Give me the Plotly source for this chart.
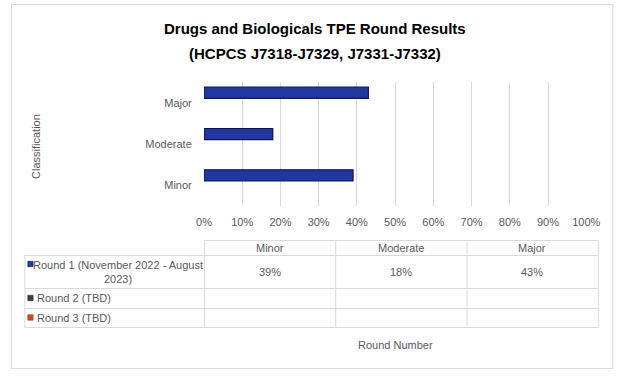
import plotly.graph_objects as go

categories = ["Minor", "Moderate", "Major"]
series_names = ["Round 1 (November 2022 - August 2023)", "Round 2 (TBD)", "Round 3 (TBD)"]
round1 = [0.39, 0.18, 0.43]
round2 = [None, None, None]
round3 = [None, None, None]
series_values = [round1, round2, round3]
series_colors = ["#22369F", "#404040", "#D24A12"]
series_lines = ["#0C1655", "#202020", "#80280A"]
x_ticks = [i / 10 for i in range(11)]
x_tick_labels = [f"{i * 10}%" for i in range(11)]
title_lines = ["Drugs and Biologicals TPE Round Results", "(HCPCS J7318-J7329, J7331-J7332)"]

W, H = 635, 376
FONT = "Liberation Sans"
GRAY = "#595959"
LINE = "#D9D9D9"


def px(x):
    return x / W


def py(y):
    return 1 - y / H


BAR_W = 0.27
BAR_OFF0 = -0.375
BAR_STEP = 0.24

fig = go.Figure()
for k, (name, vals, col, lc) in enumerate(zip(series_names, series_values, series_colors, series_lines)):
    fig.add_trace(go.Bar(
        y=categories, x=vals, name=name, orientation="h",
        width=BAR_W, offset=BAR_OFF0 + k * BAR_STEP,
        marker=dict(color=col, line=dict(color=lc, width=1.2)),
        showlegend=False,
    ))

plot_l, plot_r, plot_t, plot_b = 203, 599, 82, 206

fig.update_layout(
    width=W, height=H,
    margin=dict(l=0, r=0, t=0, b=0),
    paper_bgcolor="white", plot_bgcolor="white",
    barmode="overlay",
    font=dict(family=FONT, color=GRAY, size=11),
    xaxis=dict(
        domain=[px(plot_l), px(plot_r)], range=[0, 1],
        tickvals=x_ticks, ticktext=x_tick_labels,
        showgrid=True, gridcolor=LINE, gridwidth=1,
        zeroline=False, showline=False,
        ticks="outside", ticklen=6, tickcolor="rgba(0,0,0,0)",
        tickfont=dict(size=11, color=GRAY), fixedrange=True,
    ),
    yaxis=dict(
        domain=[py(plot_b), py(plot_t)],
        categoryorder="array", categoryarray=categories[::-1],
        autorange="reversed",
        showgrid=False, zeroline=False, showline=False,
        ticks="outside", ticklen=9, tickcolor="rgba(0,0,0,0)",
        tickfont=dict(size=11, color=GRAY), fixedrange=True,
    ),
)

shapes = []
# outer border
shapes.append(dict(type="rect", xref="paper", yref="paper",
                   x0=px(3.5), x1=px(626.5), y0=py(4.5), y1=py(368.5),
                   line=dict(color=LINE, width=1)))

# data table
col_x = [203, 339, 475, 611]
left_x = 17
head_top = 240
row_y = [255, 288, 308, 327]


def hline(x0, x1, y):
    shapes.append(dict(type="line", xref="paper", yref="paper",
                       x0=px(x0), x1=px(x1), y0=py(y + 0.5), y1=py(y + 0.5),
                       line=dict(color=LINE, width=1)))


def vline(x, y0, y1):
    shapes.append(dict(type="line", xref="paper", yref="paper",
                       x0=px(x + 0.5), x1=px(x + 0.5), y0=py(y0), y1=py(y1),
                       line=dict(color=LINE, width=1)))


hline(col_x[0], col_x[-1], head_top)
for y in row_y:
    hline(left_x, col_x[-1], y)
for x in col_x:
    vline(x, head_top, row_y[-1])
vline(left_x, row_y[0], row_y[-1])

annotations = []


def text(x, y, s, size=11, color=GRAY, xanchor="center", angle=0, family=FONT):
    annotations.append(dict(
        xref="paper", yref="paper", x=px(x), y=py(y), text=s,
        showarrow=False, xanchor=xanchor, yanchor="middle", textangle=angle,
        font=dict(size=size, color=color, family=family), align="center",
    ))


# header categories
for i, c in enumerate(categories):
    text((col_x[i] + col_x[i + 1]) / 2, 247.5, c)

# row labels + values
row_centers = [(row_y[0] + row_y[1]) / 2, (row_y[1] + row_y[2]) / 2, (row_y[2] + row_y[3]) / 2]
key_y = [264, row_centers[1], row_centers[2]]
for r, (name, vals, col, lc) in enumerate(zip(series_names, series_values, series_colors, series_lines)):
    shapes.append(dict(type="rect", xref="paper", yref="paper",
                       x0=px(20.5), x1=px(26), y0=py(key_y[r] - 2.75), y1=py(key_y[r] + 2.75),
                       fillcolor=col, line=dict(color=lc, width=0.5)))
    if r == 0:
        words = name.split(" ")
        label = " ".join(words[:-1]) + "<br>" + words[-1]
        text(114, row_centers[r] + 0.5, label)
    else:
        text(28, row_centers[r], name, xanchor="left")
    for i, v in enumerate(vals):
        if v is not None:
            text((col_x[i] + col_x[i + 1]) / 2, row_centers[r], f"{round(v * 100)}%")

# axis titles
text(29, 146, "Classification", angle=-90)
text(401, 345, "Round Number")

# chart title (two lines)
for line, yy in zip(title_lines, [28.5, 54]):
    text(318, yy, f"<b>{line}</b>", size=15, color="#000000")

fig.update_layout(shapes=shapes, annotations=annotations)
fig.write_html("out.html", config={"displayModeBar": False},
               post_script="document.body.style.margin='0';")
